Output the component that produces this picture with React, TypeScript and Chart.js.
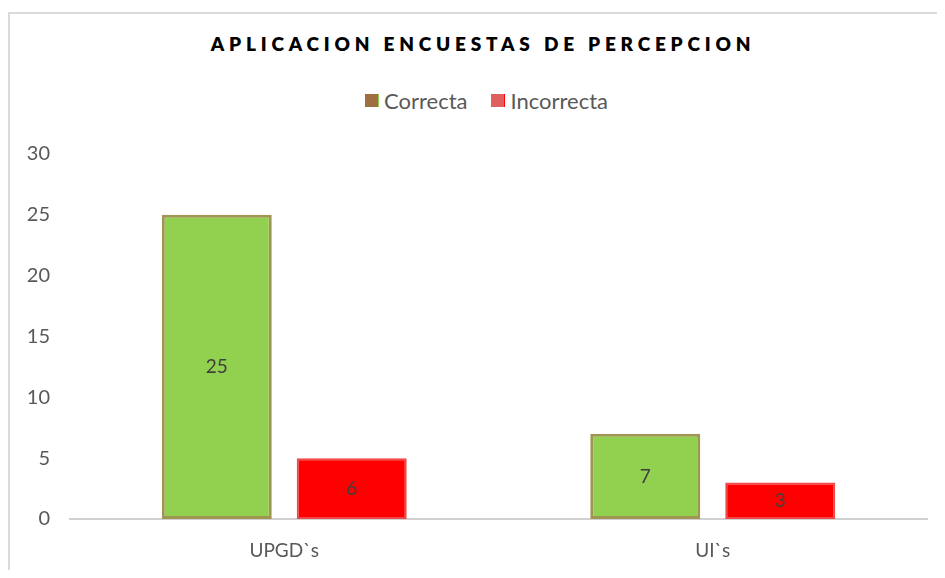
import React, { useEffect, useRef } from "react";
import { Chart, registerables } from "chart.js";

Chart.register(...registerables);

const TITLE = "APLICACION ENCUESTAS DE PERCEPCION";
const categories = ["UPGD`s", "UI`s"];
const seriesNames = ["Correcta", "Incorrecta"];
const correcta = [25, 7];
const incorrecta = [5, 3];
const correctaLabels = ["25", "7"];
const incorrectaLabels = ["6", "3"];
const yTicks = [0, 5, 10, 15, 20, 25, 30];

const FONT = "Lato, 'Open Sans', sans-serif";
const TEXT = "#595959";
const W = 929;
const H = 562;

const labelPlugin = {
  id: "barLabels",
  afterDatasetsDraw(chart: any) {
    const ctx = chart.ctx;
    const all = [correctaLabels, incorrectaLabels];
    ctx.save();
    ctx.font = `19px ${FONT}`;
    ctx.fillStyle = "#404040";
    ctx.textAlign = "center";
    ctx.textBaseline = "middle";
    chart.data.datasets.forEach((_: any, di: number) => {
      const meta = chart.getDatasetMeta(di);
      meta.data.forEach((el: any, i: number) => {
        const y = (el.y + el.base) / 2;
        ctx.fillText(all[di][i], el.x, y);
      });
    });
    ctx.restore();
  },
};

export default function App() {
  const ref = useRef<HTMLCanvasElement>(null);
  useEffect(() => {
    document.body.style.overflow = "hidden";
    const chart = new Chart(ref.current!, {
      type: "bar",
      data: {
        labels: categories,
        datasets: [
          {
            label: seriesNames[0],
            data: correcta,
            backgroundColor: "#92d050",
            borderColor: "#a09552",
            borderWidth: 3,
            borderSkipped: false,
          },
          {
            label: seriesNames[1],
            data: incorrecta,
            backgroundColor: "#ff0000",
            borderColor: "#f04848",
            borderWidth: 2,
            borderSkipped: false,
          },
        ],
      },
      options: {
        animation: false,
        responsive: false,
        maintainAspectRatio: false,
        devicePixelRatio: 1,
        layout: { padding: { top: 146, right: 10, left: 0, bottom: 0 } },
        plugins: {
          legend: { display: false },
          title: { display: false },
          tooltip: { enabled: false },
        },
        datasets: {
          bar: { categoryPercentage: 0.63, barPercentage: 0.815 },
        },
        scales: {
          x: {
            grid: { display: false, drawTicks: false },
            border: { display: true, color: "#d0d0d0", width: 2 },
            ticks: { color: TEXT, font: { family: FONT, size: 19 }, padding: 20 },
            afterFit: (s: any) => {
              s.height = 51;
            },
          },
          y: {
            min: 0,
            max: 30,
            afterBuildTicks: (s: any) => {
              s.ticks = yTicks.map((v) => ({ value: v }));
            },
            grid: { display: false, drawTicks: false },
            border: { display: false },
            ticks: { color: TEXT, font: { family: FONT, size: 20 }, padding: 20 },
            afterFit: (s: any) => {
              s.width = 62;
            },
          },
        },
      },
      plugins: [labelPlugin],
    });
    return () => chart.destroy();
  }, []);

  return (
    <div style={{ position: "relative", width: W, height: H, overflow: "hidden" }}>
      <div
        style={{
          position: "absolute",
          left: 0,
          top: 4,
          width: W,
          height: H - 4,
          borderLeft: "2px solid #dadada",
          borderTop: "2px solid #dadada",
          boxSizing: "border-box",
        }}
      />
      <div
        style={{
          position: "absolute",
          left: 0,
          top: 24,
          width: 950,
          textAlign: "center",
          fontFamily: FONT,
          fontWeight: 800,
          fontSize: 19,
          letterSpacing: 4.8,
          color: "#000",
          whiteSpace: "nowrap",
        }}
      >
        {TITLE}
      </div>
      <div
        style={{
          position: "absolute",
          left: 357,
          top: 79,
          display: "flex",
          alignItems: "center",
          fontFamily: FONT,
          fontSize: 22,
          color: TEXT,
          whiteSpace: "nowrap",
        }}
      >
        <span style={{ display: "inline-block", width: 13, height: 13, background: "#9f6f3f", borderRight: "1px solid #92d050", marginRight: 5 }} />
        <span style={{ marginRight: 24 }}>{seriesNames[0]}</span>
        <span style={{ display: "inline-block", width: 13, height: 13, background: "#e06060", borderRight: "1px solid #ff0000", marginRight: 5 }} />
        <span>{seriesNames[1]}</span>
      </div>
      <canvas ref={ref} width={W} height={H} style={{ position: "absolute", left: 0, top: 0, width: W, height: H }} />
    </div>
  );
}
